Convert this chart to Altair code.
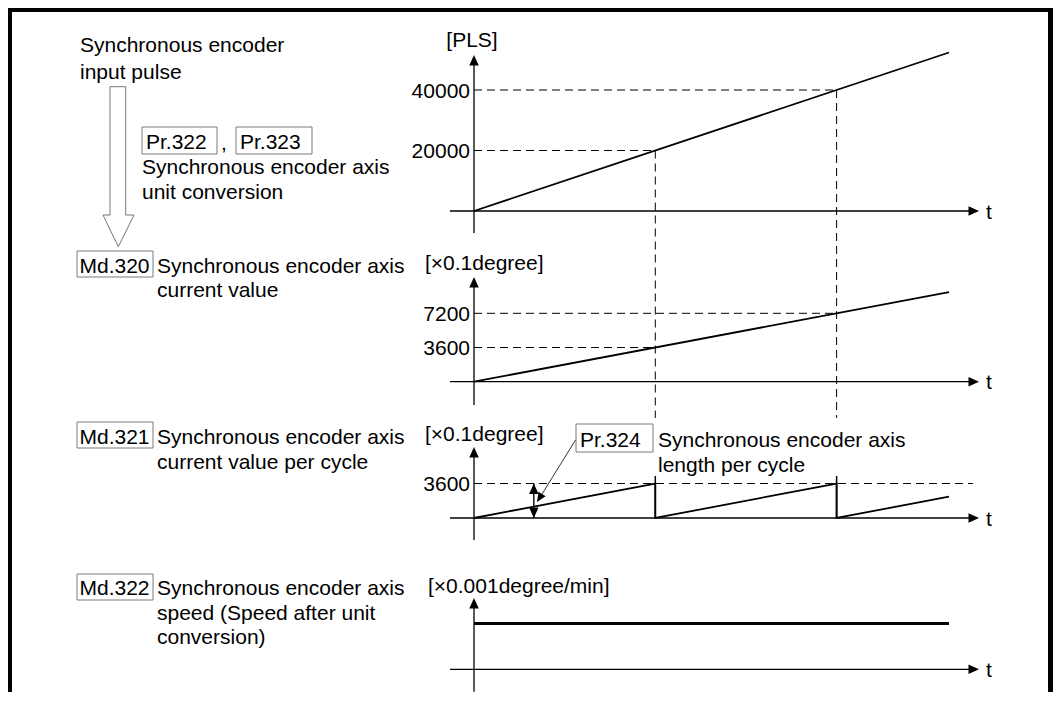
import altair as alt
import pandas as pd

W, H = 1045, 684
FONT = "Liberation Sans"
FS = 21
DASH = [8, 5]


def P(v):
    return v - 8


# ---------------- data ----------------
# time is expressed in "cycles" (one cycle = 3600 x0.1degree = 20000 PLS)
pulse_time = [0.0, 2.62]
pulse_value = [0, 52400]
pulse_ref_time = [1, 2]
pulse_ref_value = [20000, 40000]

pos_time = [0.0, 2.62]
pos_value = [0, 9432]
pos_ref_time = [1, 2]
pos_ref_value = [3600, 7200]

cyc_time = [0, 1, 1, 2, 2, 2.62]
cyc_value = [0, 3600, 0, 3600, 0, 2232]
cyc_ref_value = [3600]
cyc_reset_time = [1, 2]
cyc_len_time = [0.33]
cyc_len_top = [3600]
cyc_len_bottom = [0]

speed_time = [0.0, 2.62]
speed_value = [1, 1]

# ---------------- scales ----------------
xs = alt.Scale(domain=[0, 1], range=[P(474), P(655.3)], nice=False, zero=False)


def ysc(dom, r0, r1):
    return alt.Scale(domain=dom, range=[P(r0), P(r1)], nice=False, zero=False)


ys1 = ysc([0, 40000], 211, 90)
ys2 = ysc([0, 7200], 381.7, 313.3)
ys3 = ysc([0, 3600], 518, 483.5)
ys4 = ysc([0, 1], 669.3, 623.5)


def X(f):
    return alt.X(f, type="quantitative", scale=xs, axis=None)


def Y(f, sc):
    return alt.Y(f, type="quantitative", scale=sc, axis=None)


ONE = pd.DataFrame({"k": [0]})

UP = "M0,0L-0.9,2L0.9,2Z"
DOWN = "M0,0L-0.9,-2L0.9,-2Z"
RIGHT = "M0,0L-2,-0.9L-2,0.9Z"
HEAD = 110


def seg(x1, y1, x2, y2, color="black", width=1.3, dash=None):
    kw = dict(color=color, strokeWidth=width)
    if dash:
        kw["strokeDash"] = dash
    return alt.Chart(ONE).mark_rule(**kw).encode(
        x=alt.value(P(x1)), y=alt.value(P(y1)),
        x2=alt.value(P(x2)), y2=alt.value(P(y2)))


def label(s, x, y, align="left", size=FS):
    return alt.Chart(ONE).mark_text(
        text=s, align=align, baseline="alphabetic", font=FONT,
        fontSize=size, color="black").encode(
        x=alt.value(P(x)), y=alt.value(P(y)))


def box(x1, y1, x2, y2):
    return alt.Chart(ONE).mark_rect(
        fill="white", stroke="#7a7a7a", strokeWidth=1).encode(
        x=alt.value(P(x1)), x2=alt.value(P(x2)),
        y=alt.value(P(y1)), y2=alt.value(P(y2)))


def head(x, y, shape, size=HEAD, angle=0):
    kw = dict(shape=shape, size=size, filled=True, color="black",
              opacity=1, strokeWidth=0)
    if angle:
        kw["angle"] = angle
    return alt.Chart(ONE).mark_point(**kw).encode(
        x=alt.value(P(x)), y=alt.value(P(y)))


def axes(axis_y, top_tip, bottom):
    return [
        seg(450, axis_y, 971, axis_y),
        head(979, axis_y, RIGHT),
        seg(474, bottom, 474, top_tip + 5),
        head(474, top_tip, UP),
        label("t", 986, axis_y + 7.6),
    ]


layers = []

# outer frame
layers += [
    seg(10, 8, 10, 700, width=4),
    seg(8, 10, 1053, 10, width=4),
    seg(1050.5, 8, 1050.5, 700, width=5),
]

# ---- left-hand texts ----
layers += [
    label("Synchronous encoder", 80, 51.5),
    label("input pulse", 80, 79),
    box(142, 127, 217, 154), label("Pr.322", 146, 149),
    label(",", 221, 150),
    box(236, 127, 312, 154), label("Pr.323", 240, 149),
    label("Synchronous encoder axis", 142, 174),
    label("unit conversion", 142, 199),
    box(77, 251, 153, 277), label("Md.320", 79.5, 272.5),
    label("Synchronous encoder axis", 157, 272.5),
    label("current value", 157, 297),
    box(77, 422, 153, 448), label("Md.321", 79.5, 444),
    label("Synchronous encoder axis", 157, 444),
    label("current value per cycle", 157, 468.5),
    box(77, 574, 153, 600), label("Md.322", 79.5, 595),
    label("Synchronous encoder axis", 157, 595),
    label("speed (Speed after unit", 157, 619.5),
    label("conversion)", 157, 644),
]

# hollow conversion arrow
G = "#777777"
layers += [
    seg(110, 86.7, 125.7, 86.7, color=G, width=1),
    seg(110, 86.7, 110, 215, color=G, width=1),
    seg(125.7, 86.7, 125.7, 215, color=G, width=1),
    seg(103, 215, 110, 215, color=G, width=1),
    seg(125.7, 215, 134, 215, color=G, width=1),
    seg(103, 215, 118.3, 246.7, color=G, width=1),
    seg(134, 215, 118.3, 246.7, color=G, width=1),
]

# ---- unit labels ----
layers += [
    label("[PLS]", 472, 47, align="center"),
    label("[\u00d70.1degree]", 425, 270),
    label("[\u00d70.1degree]", 425, 441),
    label("[\u00d70.001degree/min]", 428, 593),
]

# ---- axes ----
layers += axes(211, 55, 233)
layers += axes(381.7, 277, 405)
layers += axes(518, 447, 540)
layers += axes(669.3, 598, 691.7)

# ---- panel 1: input pulse ----
df1 = pd.DataFrame({"t": pulse_time, "v": pulse_value})
ref1 = pd.DataFrame({"t": pulse_ref_time, "v": pulse_ref_value})
ref1["t0"] = 0
dash_kw = dict(color="black", strokeWidth=1, strokeDash=DASH)
txt_kw = dict(align="right", baseline="alphabetic", dy=7.5, font=FONT,
              fontSize=FS, color="black")
layers += [
    alt.Chart(ref1).mark_rule(**dash_kw).encode(x=X("t0"), x2="t", y=Y("v", ys1)),
    alt.Chart(ref1).mark_rule(**dash_kw).encode(x=X("t"), y=Y("v", ys1), y2=alt.value(P(418))),
    alt.Chart(ref1).mark_text(**txt_kw).encode(
        x=alt.value(P(470)), y=Y("v", ys1), text=alt.Text("v:Q", format="d")),
    alt.Chart(df1).mark_line(color="black", strokeWidth=1.8).encode(x=X("t"), y=Y("v", ys1)),
]

# ---- panel 2: current value ----
df2 = pd.DataFrame({"t": pos_time, "v": pos_value})
ref2 = pd.DataFrame({"t": pos_ref_time, "v": pos_ref_value})
ref2["t0"] = 0
layers += [
    alt.Chart(ref2).mark_rule(**dash_kw).encode(x=X("t0"), x2="t", y=Y("v", ys2)),
    alt.Chart(ref2).mark_text(**txt_kw).encode(
        x=alt.value(P(470)), y=Y("v", ys2), text=alt.Text("v:Q", format="d")),
    alt.Chart(df2).mark_line(color="black", strokeWidth=1.8).encode(x=X("t"), y=Y("v", ys2)),
]

# ---- panel 3: current value per cycle ----
df3 = pd.DataFrame({"t": cyc_time, "v": cyc_value})
df3["i"] = range(len(df3))
ref3 = pd.DataFrame({"v": cyc_ref_value})
ref3["t0"] = 0
rst = pd.DataFrame({"t": cyc_reset_time})
rst["v"] = 0
dl = pd.DataFrame({"t": cyc_len_time, "top": cyc_len_top, "bottom": cyc_len_bottom})
layers += [
    alt.Chart(ref3).mark_rule(**dash_kw).encode(x=X("t0"), x2=alt.value(P(973)), y=Y("v", ys3)),
    alt.Chart(ref3).mark_text(**txt_kw).encode(
        x=alt.value(P(470)), y=Y("v", ys3), text=alt.Text("v:Q", format="d")),
    alt.Chart(rst).mark_rule(color="black", strokeWidth=1.5).encode(
        x=X("t"), y=Y("v", ys3), y2=alt.value(P(476))),
    alt.Chart(df3).mark_line(color="black", strokeWidth=1.8).encode(
        x=X("t"), y=Y("v", ys3), order=alt.Order("i:Q")),
    alt.Chart(dl).mark_rule(color="black", strokeWidth=1.4).encode(
        x=X("t"), y=Y("top", ys3), y2="bottom"),
    alt.Chart(dl).mark_point(shape=UP, size=HEAD, filled=True, color="black",
                             opacity=1, strokeWidth=0).encode(x=X("t"), y=Y("top", ys3)),
    alt.Chart(dl).mark_point(shape=DOWN, size=HEAD, filled=True, color="black",
                             opacity=1, strokeWidth=0).encode(x=X("t"), y=Y("bottom", ys3)),
]

# Pr.324 annotation
layers += [
    box(576, 424, 653, 452), label("Pr.324", 580, 447),
    label("Synchronous encoder axis", 658, 447),
    label("length per cycle", 658, 472),
    seg(575.5, 440, 539, 499, color="#333333", width=1),
    head(537, 502, UP, size=90, angle=212),
]

# ---- panel 4: speed ----
df4 = pd.DataFrame({"t": speed_time, "v": speed_value})
layers += [
    alt.Chart(df4).mark_line(color="black", strokeWidth=2.8).encode(x=X("t"), y=Y("v", ys4)),
]

chart = alt.layer(*layers).resolve_scale(y="independent").properties(
    width=W, height=H, autosize=alt.AutoSizeParams(type="none"), padding=0,
    background="white",
).configure_view(strokeWidth=0)

chart.save("out.html", embed_options={"renderer": "svg", "actions": False})
